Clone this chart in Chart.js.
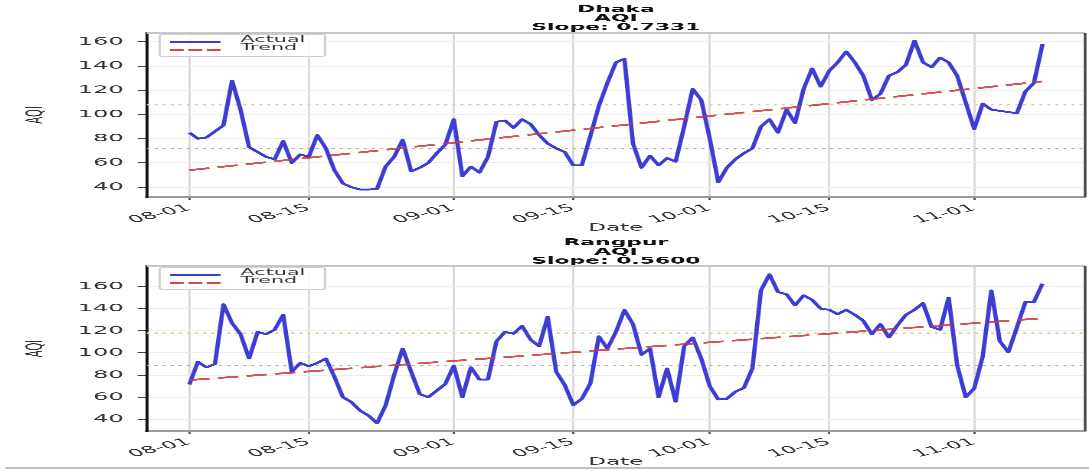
<!DOCTYPE html>
<html>
<head>
<meta charset="utf-8">
<title>AQI trend - Dhaka / Rangpur</title>
<script src="https://cdn.jsdelivr.net/npm/chart.js"></script>
<style>
  body { margin:0; background:#fff; width:1089px; height:471px; overflow:hidden; position:relative; font-family:"DejaVu Sans", sans-serif; }
  /* the source picture is squashed vertically, so draw narrow and stretch sideways */
  #stage { position:absolute; left:0; top:0; width:474px; height:471px; transform:scaleX(2.2975); transform-origin:0 0; }
  .pane { position:absolute; left:0; }
  .leg { position:absolute; left:68.7px; width:71.5px; height:21px; border:1px solid #cfcfcf; border-radius:2px; background:rgba(255,255,255,0.85); color:#333; font-size:9px; }
  .leg .row { position:absolute; left:0; width:100%; height:8px; }
  .leg .ln { position:absolute; left:4px; width:22px; top:3px; height:0; }
  .leg .tx { position:absolute; left:35px; top:-3px; line-height:9px; }
  #sep { position:absolute; left:5px; top:467px; width:1084px; height:2px; background:#b9c1cc; }
</style>
</head>
<body>
<div id="stage">
  <div class="pane" style="top:0px"><canvas id="c1" width="474" height="236"></canvas></div>
  <div class="pane" style="top:236px"><canvas id="c2" width="474" height="235"></canvas></div>

  <div class="leg" style="top:33.5px">
    <div class="row" style="top:3px"><span class="ln" style="border-top:2px solid #3d3dd6"></span><span class="tx">Actual</span></div>
    <div class="row" style="top:11.5px"><span class="ln" style="border-top:2px dashed #d04848"></span><span class="tx">Trend</span></div>
  </div>
  <div class="leg" style="top:266.5px">
    <div class="row" style="top:3px"><span class="ln" style="border-top:2px solid #3d3dd6"></span><span class="tx">Actual</span></div>
    <div class="row" style="top:11.5px"><span class="ln" style="border-top:2px dashed #d04848"></span><span class="tx">Trend</span></div>
  </div>
</div>
<div id="sep"></div>

<script>
// days since 08-01, one reading per day
var days = [];
for (var i = 0; i <= 100; i++) days.push(i);

var dhakaAqi = [85, 80, 81, 86, 91, 128, 104, 73, 69, 65,
                63, 78, 60, 67, 65, 83, 72, 54, 43, 40,
                38, 38, 38.5, 57, 65, 79, 53, 56, 60, 68,
                75, 96, 49, 57, 52, 65, 94, 95, 89, 96,
                92, 83, 76, 72, 69, 58, 58, 82, 107, 126,
                143, 146, 76, 56, 66, 58, 64, 61, 90, 121,
                112, 80, 44, 56, 63, 68, 72, 90, 96, 85,
                104, 93, 121, 138, 123, 136, 143, 152, 143, 132,
                112, 117, 132, 135, 141, 161, 143, 139, 147, 143,
                132, 110, 88, 109, 104, 103, 102, 101, 119, 126,
                158];

var rangpurAqi = [71.5, 92, 87, 90, 144, 127, 117, 95, 119, 117,
                  121, 134.5, 83, 91, 88, 91, 95, 78.5, 60, 55.6,
                  48, 43.4, 36.6, 52.5, 80, 104, 83, 63, 60, 66,
                  72, 88.6, 60, 87, 76, 76, 110.6, 119, 117.4, 124.4,
                  112, 106, 132.7, 83, 71, 53, 58.6, 72.4, 115, 104,
                  119, 138.8, 126, 98.4, 104, 60, 86, 56, 106, 114,
                  95, 70, 58, 58.6, 65, 68.4, 86, 156.5, 171, 155,
                  153, 143, 152, 148, 140, 139, 135, 139, 134.5, 129,
                  117, 126, 114, 125, 134.5, 139, 145, 123.5, 121, 150,
                  89, 60, 68, 97, 156.5, 110.6, 100.8, 123, 146, 146,
                  162.7];

// fitted trend, read at both ends
var trendDays = [0, 100];
var dhakaTrend = [54.0, 127.3];
var rangpurTrend = [75.5, 131.4];

// dotted reference levels (upper, lower)
var dhakaBands = [108, 72];
var rangpurBands = [118, 88.6];

var tickDays = [0, 14, 31, 45, 61, 75, 92];
var tickLabels = ['08-01', '08-15', '09-01', '09-15', '10-01', '10-15', '11-01'];
var yTicks = [40, 60, 80, 100, 120, 140, 160];

var xMin = -5, xMax = 105;
var FONT = 'DejaVu Sans';

function pts(xs, ys) {
  return xs.map(function (x, i) { return {x: x, y: ys[i]}; });
}

// top and right spines
var frame = {
  id: 'frame',
  afterDraw: function (chart) {
    var ctx = chart.ctx, a = chart.chartArea;
    ctx.save();
    ctx.strokeStyle = '#c6c6c6';
    ctx.lineWidth = 1.5;
    ctx.beginPath(); ctx.moveTo(a.left, a.top); ctx.lineTo(a.right, a.top); ctx.stroke();
    ctx.strokeStyle = '#4a4a4a';
    ctx.lineWidth = 1.2;
    ctx.beginPath(); ctx.moveTo(a.right, a.top); ctx.lineTo(a.right, a.bottom); ctx.stroke();
    ctx.restore();
  }
};

function makeChart(id, title, values, trend, bands, yMin, yMax, titlePad, xHeight, datePad) {
  return new Chart(document.getElementById(id), {
    type: 'line',
    data: {
      datasets: [
        {label: 'Trend', data: pts(trendDays, trend), borderColor: 'rgba(205,55,55,0.85)', borderWidth: 1.9,
         borderDash: [9, 3.6], pointRadius: 0, order: 0},
        {label: 'Actual', data: pts(days, values), borderColor: '#3d3dd6', borderWidth: 1.9,
         pointRadius: 0, tension: 0, borderJoinStyle: 'round', order: 1},
        {label: 'upper', data: pts([xMin, xMax], [bands[0], bands[0]]), borderColor: '#d8d09c', borderWidth: 1.3,
         borderDash: [1.3, 2.2], pointRadius: 0, order: 2},
        {label: 'lower', data: pts([xMin, xMax], [bands[1], bands[1]]), borderColor: '#ababab', borderWidth: 1.3,
         borderDash: [1.3, 2.2], pointRadius: 0, order: 2}
      ]
    },
    options: {
      responsive: false,
      animation: false,
      devicePixelRatio: 3,
      layout: {padding: {left: 0, right: 1.7, top: 0, bottom: 0}},
      plugins: {
        legend: {display: false},
        tooltip: {enabled: false},
        title: {
          display: true, text: title, fullSize: false, color: '#111',
          font: {family: FONT, size: 9.5, weight: 'bold', lineHeight: 0.95},
          padding: titlePad
        }
      },
      scales: {
        x: {
          type: 'linear', min: xMin, max: xMax,
          afterBuildTicks: function (s) { s.ticks = tickDays.map(function (v) { return {value: v}; }); },
          afterFit: function (s) { s.height = xHeight; },
          grid: {color: '#dadada', lineWidth: 1, tickLength: 3, tickColor: '#555'},
          border: {color: '#9a9a9a', width: 1.5},
          ticks: {
            font: {family: FONT, size: 10}, color: '#333', minRotation: 28, maxRotation: 28, padding: 2,
            callback: function (v, i) { return tickLabels[i]; }
          },
          title: {display: true, text: 'Date', color: '#333', font: {family: FONT, size: 10}, padding: {top: 0, bottom: datePad}}
        },
        y: {
          min: yMin, max: yMax,
          afterBuildTicks: function (s) { s.ticks = yTicks.map(function (v) { return {value: v}; }); },
          afterFit: function (s) { s.width = 63.85; },
          grid: {color: '#ededed', lineWidth: 1, tickLength: 4, tickColor: '#444'},
          border: {color: '#111', width: 1.3},
          ticks: {font: {family: FONT, size: 10.5}, color: '#333', padding: 6},
          title: {display: true, text: 'AQI', color: '#333', font: {family: FONT, size: 10}, padding: {top: 9.6, bottom: 0}}
        }
      }
    },
    plugins: [frame]
  });
}

makeChart('c1', ['Dhaka', 'AQI', 'Slope: 0.7331'], dhakaAqi, dhakaTrend, dhakaBands, 31.85, 167.2,
          {top: 5, bottom: 1}, 39, 2);
makeChart('c2', ['Rangpur', 'AQI', 'Slope: 0.5600'], rangpurAqi, rangpurTrend, rangpurBands, 29.5, 178.5,
          {top: 2.5, bottom: 0.5}, 40, 3);
</script>
</body>
</html>
